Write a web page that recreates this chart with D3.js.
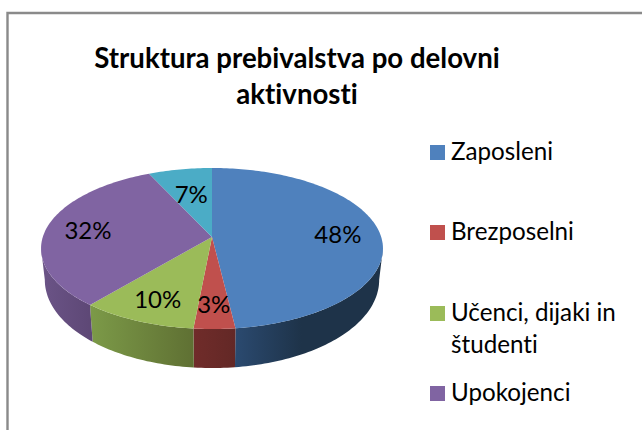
<!DOCTYPE html>
<html>
<head>
<meta charset="utf-8">
<script src="https://cdn.jsdelivr.net/npm/d3@7"></script>
<style>
  html, body { margin: 0; padding: 0; background: #fff; }
  svg { display: block; }
  text { font-family: Lato, "Open Sans", sans-serif; fill: #000; font-variant-ligatures: none; }
</style>
</head>
<body>
<svg id="chart" width="642" height="430"></svg>
<script>
var titleLines = ["Struktura prebivalstva po delovni", "aktivnosti"];
var values = [48.1, 3.4, 9.6, 32.0, 6.9];
var colors = ["#4f81bd", "#c0504d", "#9bbb59", "#8064a2", "#4bacc6"];
var sideLight = ["#2b4a70", "#702c2a", "#7c9a48", "#6b5487", "#3a8a9e"];
var sideDark = ["#1e3349", "#632826", "#5f7033", "#5d4775", "#2f7487"];
var legendLines = [["Zaposleni"], ["Brezposelni"], ["Učenci, dijaki in", "študenti"], ["Upokojenci"]];

var svg = d3.select("#chart");
var cx = 212, cy = 237, radius = 169.2, squash = 78.86, persp = 1 / 7;
var fmt = d3.format(".0%");
var total = d3.sum(values);

// circle -> screen, the near half of the pie comes out bigger
function project(angle, f) {
  var u = Math.sin(angle) * f, v = -Math.cos(angle) * f, w = 1 - persp * v;
  return [cx + radius * u / w, cy + squash * v / w];
}
function projectLow(angle) {
  var p = project(angle, 1), v = -Math.cos(angle);
  return [cx + (p[0] - cx) * 0.978, p[1] + 30 + 9 * v];
}
function samples(a, b) {
  var n = Math.max(2, Math.ceil(Math.abs(b - a) / 0.02)), out = [];
  for (var i = 0; i <= n; i++) out.push(a + (b - a) * i / n);
  return out;
}
function labelPos(s) {
  // the small top slice sits closer to the middle
  return project((s.startAngle + s.endAngle) / 2, s.index == 4 ? 0.62 : 0.75);
}

var line = d3.line();
var pie = d3.pie().sort(null).value(function(d) { return d; });
var slices = pie(values);

// frame, cropped on the right and at the bottom
svg.append("path")
  .attr("d", "M7.5,430V13H642")
  .attr("fill", "none")
  .attr("stroke", "#8a8a8a")
  .attr("stroke-width", 2.4);

var defs = svg.append("defs");
slices.forEach(function(s, i) {
  var g = defs.append("linearGradient").attr("id", "side" + i);
  g.append("stop").attr("offset", "0%").attr("stop-color", sideLight[i]);
  g.append("stop").attr("offset", "100%").attr("stop-color", sideDark[i]);
  if (i == 0) g.attr("x1", "0").attr("x2", "0.45");
});

// the wall is only seen on the front, between the two tangent points
var tangent = Math.acos(-persp);
var wallFrom = tangent, wallTo = 2 * Math.PI - tangent;

svg.append("g").selectAll("path")
  .data(slices.filter(function(s) { return s.endAngle > wallFrom && s.startAngle < wallTo; }))
  .enter().append("path")
  .attr("d", function(s) {
    var a = samples(Math.max(s.startAngle, wallFrom), Math.min(s.endAngle, wallTo));
    var pts = a.map(function(t) { return project(t, 1); })
      .concat(a.slice().reverse().map(projectLow));
    return line(pts) + "Z";
  })
  .attr("fill", function(s) { return "url(#side" + s.index + ")"; });

svg.append("g").selectAll("path")
  .data(slices)
  .enter().append("path")
  .attr("d", function(s) {
    var pts = [[cx, cy]].concat(samples(s.startAngle, s.endAngle).map(function(t) { return project(t, 1); }));
    return line(pts) + "Z";
  })
  .attr("fill", function(s) { return colors[s.index]; });

svg.append("g").selectAll("text")
  .data(slices)
  .enter().append("text")
  .attr("x", function(s) { return labelPos(s)[0]; })
  .attr("y", function(s) { return labelPos(s)[1] + 10; })
  .attr("text-anchor", "middle")
  .style("font-size", "24px")
  .text(function(s) { return fmt(s.data / total); });

svg.append("g").selectAll("text")
  .data(titleLines)
  .enter().append("text")
  .attr("x", 297)
  .attr("y", function(d, i) { return 68 + i * 36; })
  .attr("text-anchor", "middle")
  .style("font-size", "27.6px")
  .style("font-weight", "bold")
  .text(function(d) { return d; });

var legendY = d3.scalePoint().domain(d3.range(legendLines.length)).range([160, 401]);
var items = svg.append("g").selectAll("g")
  .data(legendLines)
  .enter().append("g")
  .attr("transform", function(d, i) { return "translate(430," + Math.round(legendY(i)) + ")"; });
items.append("rect")
  .attr("y", -15)
  .attr("width", 15)
  .attr("height", 15)
  .attr("fill", function(d, i) { return colors[i]; });
items.selectAll("text")
  .data(function(d) { return d; })
  .enter().append("text")
  .attr("x", 21)
  .attr("y", function(d, i) { return i * 32; })
  .style("font-size", "24.2px")
  .text(function(d) { return d; });
</script>
</body>
</html>
